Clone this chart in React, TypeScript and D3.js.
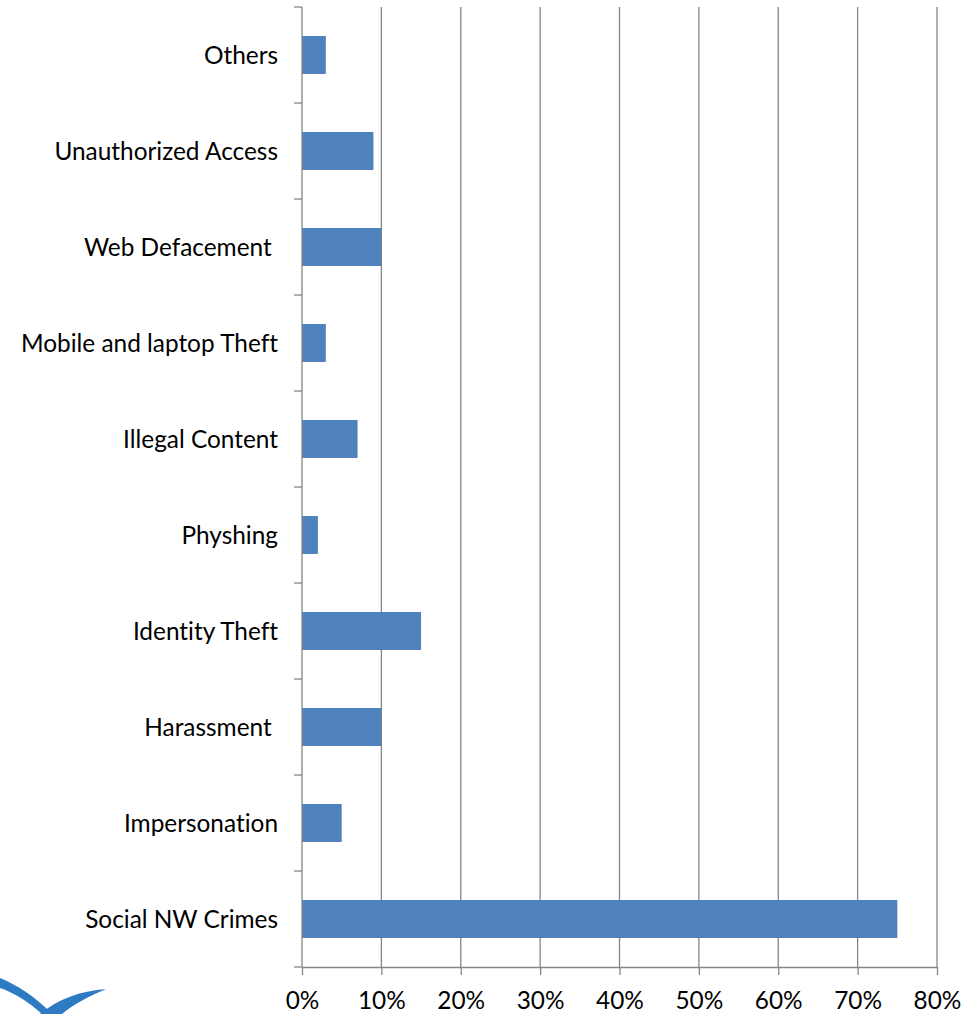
import React, { useRef, useEffect } from "react";
import * as d3 from "d3";

// categories from bottom to top, as in the source chart
const categories = [
  "Social NW Crimes",
  "Impersonation",
  "Harassment ",
  "Identity Theft",
  "Physhing",
  "Illegal Content",
  "Mobile and laptop Theft",
  "Web Defacement ",
  "Unauthorized Access",
  "Others",
];
const shares = [0.75, 0.05, 0.1, 0.15, 0.02, 0.07, 0.03, 0.1, 0.09, 0.03];
const xTicks = [0, 0.1, 0.2, 0.3, 0.4, 0.5, 0.6, 0.7, 0.8];

const App = () => {
  const svgRef = useRef<SVGSVGElement>(null);

  useEffect(() => {
    const width = 977;
    const height = 1014;
    const margin = { top: 7, right: 40, bottom: 47, left: 302 };

    const svg = d3.select(svgRef.current);
    svg.selectAll("*").remove();

    const x = d3
      .scaleLinear()
      .domain([0, 0.8])
      .range([margin.left, 937]);

    const y = d3
      .scaleBand()
      .domain(categories.slice().reverse())
      .range([margin.top, height - margin.bottom])
      .paddingInner(0.604)
      .paddingOuter(0.302);

    const font = "Lato, Open Sans, sans-serif";
    const fontSize = "24.4px";
    const grey = "#868686";

    // GRIDLINES
    svg
      .append("g")
      .selectAll("line")
      .data(xTicks.slice(1))
      .join("line")
      .attr("x1", (d) => x(d))
      .attr("x2", (d) => x(d))
      .attr("y1", margin.top)
      .attr("y2", height - margin.bottom)
      .attr("stroke", grey)
      .attr("stroke-width", 1.3);

    // BARS
    svg
      .append("g")
      .selectAll("rect")
      .data(categories)
      .join("rect")
      .attr("x", x(0))
      .attr("y", (d) => y(d)!)
      .attr("width", (d, i) => x(shares[i]) - x(0))
      .attr("height", y.bandwidth())
      .attr("fill", "#4F81BD");

    // X AXIS
    const xAxis = svg
      .append("g")
      .attr("transform", `translate(0,${height - margin.bottom})`)
      .call(
        d3
          .axisBottom(x)
          .tickValues(xTicks)
          .tickFormat(d3.format(".0%"))
          .tickSize(8)
          .tickSizeOuter(0)
      );
    xAxis.select(".domain").attr("stroke", grey).attr("stroke-width", 1.3);
    xAxis.selectAll("line").attr("stroke", grey).attr("stroke-width", 1.3);
    xAxis
      .selectAll("text")
      .attr("fill", "#000")
      .attr("y", 42)
      .attr("dy", 0)
      .style("font-family", font)
      .style("font-size", fontSize);

    // Y AXIS (ticks between categories)
    const yAxis = svg.append("g").attr("transform", `translate(${margin.left},0)`);
    yAxis
      .append("line")
      .attr("x1", 0)
      .attr("x2", 0)
      .attr("y1", margin.top)
      .attr("y2", height - margin.bottom)
      .attr("stroke", grey)
      .attr("stroke-width", 1.3);
    const step = y.step();
    yAxis
      .selectAll(".tk")
      .data(d3.range(categories.length + 1))
      .join("line")
      .attr("class", "tk")
      .attr("x1", -8)
      .attr("x2", 0)
      .attr("y1", (i) => margin.top + i * step)
      .attr("y2", (i) => margin.top + i * step)
      .attr("stroke", grey)
      .attr("stroke-width", 1.3);
    yAxis
      .selectAll("text")
      .data(categories)
      .join("text")
      .attr("x", -24)
      .attr("y", (d) => y(d)! + y.bandwidth() / 2)
      .attr("dy", "0.36em")
      .attr("text-anchor", "end")
      .style("font-family", font)
      .style("font-size", fontSize)
      .style("font-variant-ligatures", "none")
      .style("white-space", "pre")
      .text((d) => d);

    // LOGO FRAGMENT
    svg
      .append("path")
      .attr("d", "M0,978 C15,984 35,996 52,1014 L42,1014 C30,1003 15,993 0,988 Z")
      .attr("fill", "#2E7BC4");
    svg
      .append("path")
      .attr("d", "M40,1014 C58,999 80,991 106,989 C90,996 72,1005 62,1014 Z")
      .attr("fill", "#2E7BC4");
  }, []);

  return (
    <svg
      ref={svgRef}
      width={977}
      height={1014}
      style={{ position: "absolute", left: 0, top: 0, background: "#fff" }}
    ></svg>
  );
};

export default App;
